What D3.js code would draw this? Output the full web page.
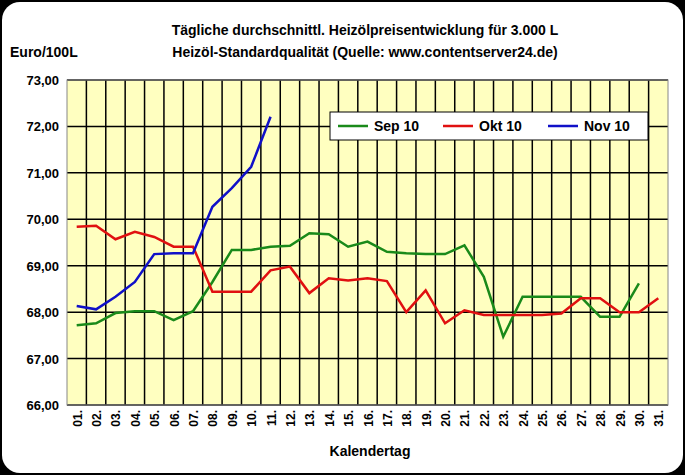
<!DOCTYPE html><html><head><meta charset="utf-8"><script src="https://cdn.jsdelivr.net/npm/d3@7"></script>
<style>body{margin:0;background:#000}svg{display:block}text{font-family:Arial,"Liberation Sans",sans-serif;font-weight:bold}</style></head><body><script>
const days = d3.range(1,32).map(d=>(d<10?"0":"")+d+".");
const yTicks = [66,67,68,69,70,71,72,73];
const sep10 = [67.72,67.76,67.98,68.02,68.02,67.83,68.02,68.65,69.34,69.34,69.41,69.43,69.7,69.68,69.41,69.52,69.3,69.27,69.25,69.25,69.44,68.76,67.47,68.33,68.33,68.33,68.33,67.9,67.9,68.62];
const okt10 = [69.84,69.86,69.57,69.73,69.62,69.41,69.41,68.44,68.44,68.44,68.9,68.98,68.41,68.73,68.68,68.73,68.67,68.0,68.47,67.76,68.04,67.94,67.94,67.94,67.94,67.97,68.3,68.3,68.0,68.0,68.3];
const nov10 = [68.13,68.06,68.33,68.65,69.25,69.27,69.27,70.27,70.67,71.13,72.21];
const series=[{name:"Sep 10",color:"#1a8a1a",v:sep10},{name:"Okt 10",color:"#e01010",v:okt10},{name:"Nov 10",color:"#1010c8",v:nov10}];
const W=685,H=475;
const svg=d3.select("body").append("svg").attr("width",W).attr("height",H);
svg.append("rect").attr("x",2).attr("y",2).attr("width",W-4).attr("height",H-4).attr("rx",18).attr("fill","#fff");
const L=67,R=668,T=80,B=405;
const x=d3.scaleBand().domain(days).range([L,R]);
const y=d3.scaleLinear().domain([66,73]).range([B,T]);
svg.append("rect").attr("x",L).attr("y",T).attr("width",R-L).attr("height",B-T).attr("fill","#ffffc0");
const g=svg.append("g");
g.selectAll(".v").data(days.slice(1)).join("line").attr("x1",d=>x(d)).attr("x2",d=>x(d)).attr("y1",T).attr("y2",B).attr("stroke","#000").attr("stroke-width",1.5);
g.selectAll(".h").data(yTicks).join("line").attr("x1",L).attr("x2",R).attr("y1",d=>y(d)).attr("y2",d=>y(d)).attr("stroke","#000").attr("stroke-width",1.5);
svg.append("rect").attr("x",L).attr("y",T).attr("width",R-L).attr("height",B-T).attr("fill","none").attr("stroke","#888");
svg.selectAll(".yl").data(yTicks).join("text").attr("x",L-8).attr("y",d=>y(d)+5).attr("text-anchor","end").attr("font-size",13).text(d=>d.toFixed(2).replace(".",","));
svg.selectAll(".xl").data(days).join("text").attr("transform",d=>`translate(${x(d)+x.bandwidth()/2+5},${B+5}) rotate(-90)`).attr("text-anchor","end").attr("font-size",12).text(d=>d);
const line=d3.line().x((d,i)=>x(days[i])+x.bandwidth()/2).y(d=>y(d));
series.forEach(s=>svg.append("path").attr("d",line(s.v)).attr("fill","none").attr("stroke",s.color).attr("stroke-width",2.5));
const lg=svg.append("g");
lg.append("rect").attr("x",330).attr("y",112).attr("width",318).attr("height",28).attr("fill","#fff").attr("stroke","#000");
series.forEach((s,i)=>{const lx=338+i*105;
lg.append("line").attr("x1",lx).attr("x2",lx+30).attr("y1",126).attr("y2",126).attr("stroke",s.color).attr("stroke-width",2.5);
lg.append("text").attr("x",lx+36).attr("y",131).attr("font-size",14).text(s.name);});
svg.append("text").attr("x",365).attr("y",35).attr("text-anchor","middle").attr("font-size",14).text("Tägliche durchschnittl. Heizölpreisentwicklung für 3.000 L");
svg.append("text").attr("x",365).attr("y",57).attr("text-anchor","middle").attr("font-size",14).text("Heizöl-Standardqualität (Quelle: www.contentserver24.de)");
svg.append("text").attr("x",10).attr("y",57).attr("font-size",14).text("Euro/100L");
svg.append("text").attr("x",370).attr("y",456).attr("text-anchor","middle").attr("font-size",14).text("Kalendertag");
</script></body></html>
